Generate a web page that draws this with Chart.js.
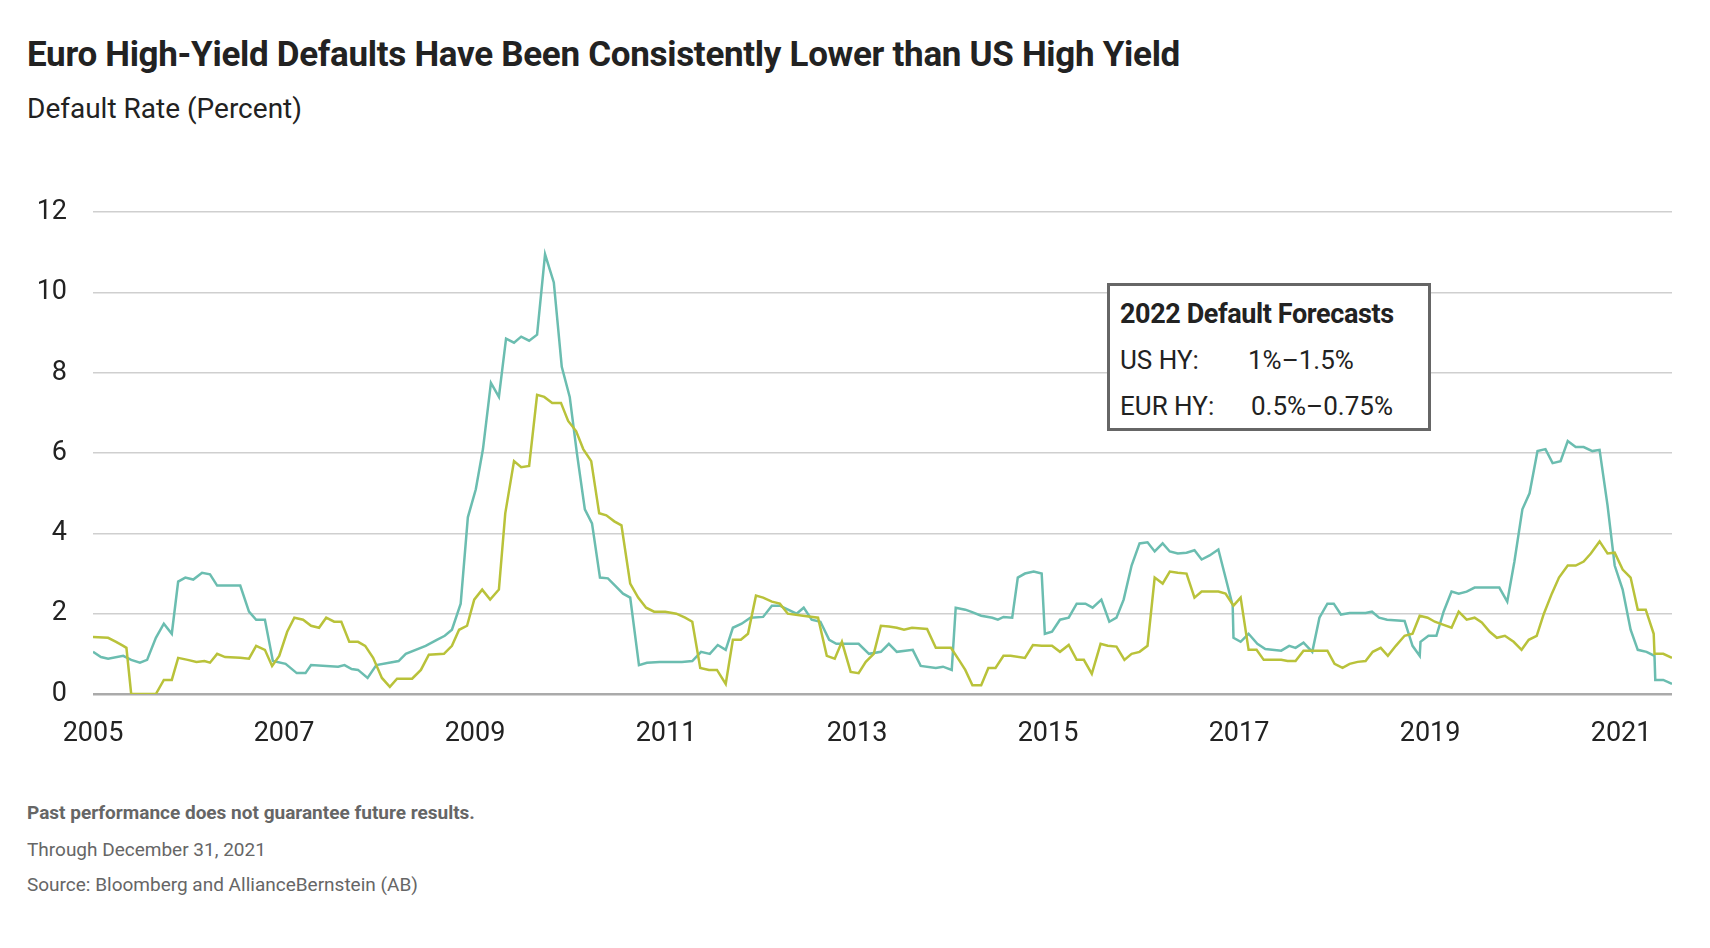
<!DOCTYPE html>
<html>
<head>
<meta charset="utf-8">
<script src="https://cdn.jsdelivr.net/npm/chart.js@4"></script>
<style>
  body { margin: 0; background: #fff; font-family: Roboto, "Noto Sans", sans-serif; color: #222; }
  #wrap { position: relative; width: 1710px; height: 948px; }
  h1 { position: absolute; left: 27px; top: 34px; margin: 0; font-size: 35px; font-weight: 700; letter-spacing: -0.3px; }
  .sub { position: absolute; left: 27px; top: 92px; font-size: 28px; }
  #chartBox { position: absolute; left: 0; top: 170px; width: 1710px; height: 610px; }
  .note { position: absolute; left: 27px; font-size: 19px; color: #666; }
  #forecast { position: absolute; left: 1107px; top: 283px; width: 324px; height: 148px; border: 3px solid #666; background: #fff; box-sizing: border-box; padding: 8px 10px 0 10px; white-space: nowrap; }
  #forecast .t { font-size: 27px; font-weight: 700; line-height: 40px; letter-spacing: -0.4px; margin-bottom: 6px; }
  #forecast .r { font-size: 26px; line-height: 40px; margin-bottom: 6px; }
  #forecast .r span { display: inline-block; }
</style>
</head>
<body>
<div id="wrap">
  <h1>Euro High-Yield Defaults Have Been Consistently Lower than US High Yield</h1>
  <div class="sub">Default Rate (Percent)</div>
  <div id="chartBox"><canvas id="chart"></canvas></div>
  <div id="forecast">
    <div class="t">2022 Default Forecasts</div>
    <div class="r"><span style="width:128px">US HY:</span>1%–1.5%</div>
    <div class="r"><span style="width:131px">EUR HY:</span>0.5%–0.75%</div>
  </div>
  <div class="note" style="top:801px;font-weight:700;">Past performance does not guarantee future results.</div>
  <div class="note" style="top:838px;">Through December 31, 2021</div>
  <div class="note" style="top:873px;">Source: Bloomberg and AllianceBernstein (AB)</div>
</div>
<script>
// months since Jan 2005
const usMonths = [0,1,1.9,3.8,4.8,5.9,6.8,7.9,8.9,9.9,10.7,11.6,12.6,13.7,14.7,15.6,18.5,19.6,20.5,21.6,22.6,24.2,25.6,26.7,27.4,30.8,31.6,32.5,33.3,34.5,35.6,38.4,39.3,41.8,43.2,44.2,45.1,46.2,47.1,48.1,49,50,51,51.9,52.9,53.8,54.8,55.8,56.8,57.9,58.9,59.9,60.8,61.8,62.7,63.7,64.7,65.6,66.6,67.5,68.6,69.6,71.2,74,75.3,76.4,77.5,78.5,79.5,80.4,81.5,82.6,84.2,85.3,86.3,88.4,89.3,90.3,91.4,92.5,93.4,96.2,97.5,99,100,101,103,104,105.9,106.8,107.9,108.4,109.6,110.3,111.6,113,113.7,114.4,115.5,116.2,117.1,118.2,119.2,119.6,120.5,121.5,122.6,123.6,124.7,125.6,126.7,127.7,128.6,129.5,130.5,131.5,132.5,133.4,134.4,135.3,136.3,137.4,138.4,139.3,140.3,141.4,142.3,143.2,143.3,144.2,145.2,146.3,147.3,149.3,150.3,151.1,152.1,153.2,154.1,155.1,155.9,156.8,157.9,159.9,160.7,161.6,162.6,164.8,165.8,166.7,166.8,167.8,168.8,169.7,170.7,171.6,172.6,173.6,176.7,177.7,178.6,179.6,180.5,181.5,182.5,183.4,184.4,185.3,186.3,187.3,188.4,189.3,190.3,191.2,192.2,193.2,194.1,195.2,196.2,196.3,197.3,198.4];
const usValues = [1.05,0.92,0.88,0.95,0.85,0.78,0.85,1.4,1.75,1.5,2.8,2.9,2.85,3.02,2.98,2.7,2.7,2.05,1.85,1.85,0.82,0.75,0.52,0.52,0.72,0.68,0.72,0.62,0.6,0.4,0.72,0.82,1.0,1.2,1.35,1.45,1.6,2.25,4.4,5.1,6.1,7.75,7.4,8.85,8.75,8.9,8.8,8.95,10.95,10.25,8.15,7.4,6.0,4.6,4.25,2.9,2.88,2.7,2.5,2.4,0.72,0.78,0.8,0.8,0.82,1.05,1.0,1.22,1.1,1.65,1.75,1.9,1.92,2.2,2.2,2.0,2.15,1.85,1.8,1.35,1.25,1.25,1.0,1.05,1.25,1.05,1.1,0.7,0.65,0.68,0.6,2.15,2.1,2.05,1.95,1.9,1.85,1.92,1.9,2.9,3.0,3.05,3.0,1.5,1.55,1.85,1.9,2.25,2.25,2.15,2.35,1.8,1.9,2.35,3.2,3.75,3.78,3.55,3.75,3.55,3.5,3.52,3.58,3.35,3.45,3.6,2.9,2.2,1.4,1.3,1.5,1.25,1.12,1.08,1.2,1.15,1.28,1.05,1.9,2.25,2.25,1.98,2.02,2.02,2.05,1.9,1.85,1.82,1.2,0.95,1.3,1.45,1.45,2.05,2.55,2.5,2.55,2.65,2.65,2.3,3.3,4.6,5.0,6.05,6.1,5.75,5.8,6.3,6.15,6.15,6.05,6.08,4.7,3.2,2.6,1.6,1.1,1.05,0.95,0.35,0.35,0.25];

const eurMonths = [0,1.9,2.9,3.8,4.2,4.8,7.9,8.9,9.9,10.7,11.9,13,14,14.7,15.6,16.6,18.5,19.6,20.5,21.6,22.5,23.4,24.4,25.3,26.4,27.4,28.4,29.3,30.3,31.2,32.2,33.3,34.2,35.2,36.3,37.3,38.2,40.1,41.2,42.2,44.1,45.1,46,47,47.9,48.9,49.9,51,51.8,52.9,53.8,54.8,55.8,56.7,57.7,58.8,59.7,60.7,61.6,62.6,63.6,64.5,65.5,66.4,67.5,68.5,69.5,70.5,71.9,73.3,74.4,75.3,76.3,77.4,78.4,79.5,80.4,81.4,82.3,83.3,84.2,85.3,86.3,87.3,89.2,91.1,92.2,93.2,94.1,95.2,96.2,97.1,98.1,99,100,101,101.9,102.9,104.8,105.9,107.8,108.8,109.6,110.5,111.6,112.5,113.4,114.4,115.3,117.1,118.1,119.2,120.5,121.5,122.6,123.6,124.5,125.5,126.6,127.5,128.6,129.6,130.5,131.5,132.5,133.4,134.4,135.3,136.3,137.4,138.4,139.3,141.4,142.3,143.3,144.2,145.2,146.2,147.1,149.3,150.1,151.1,152.1,155.1,156,157,157.9,158.9,159.9,160.8,161.8,162.7,163.7,164.8,165.8,166.7,167.7,168.6,169.7,170.7,171.6,172.6,173.6,174.5,175.5,176.4,177.4,178.5,179.5,180.4,181.4,182.3,183.3,184.2,185.3,186.3,187.3,188.2,189.3,190.3,191.2,192.2,193.2,194.1,195.1,196.1,196.2,197.3,198.4];
const eurValues = [1.42,1.4,1.3,1.2,1.15,0,0,0.35,0.35,0.9,0.85,0.8,0.82,0.78,1.0,0.92,0.9,0.88,1.2,1.1,0.7,0.95,1.55,1.9,1.85,1.7,1.65,1.9,1.8,1.8,1.3,1.3,1.2,0.9,0.4,0.18,0.38,0.38,0.6,0.98,1.0,1.2,1.6,1.7,2.35,2.6,2.35,2.6,4.5,5.8,5.65,5.68,7.45,7.4,7.25,7.25,6.8,6.55,6.1,5.8,4.5,4.45,4.3,4.2,2.75,2.4,2.15,2.05,2.05,2.0,1.9,1.8,0.65,0.6,0.6,0.25,1.35,1.35,1.5,2.45,2.4,2.3,2.25,2.0,1.95,1.9,0.95,0.88,1.3,0.55,0.52,0.8,1.0,1.7,1.68,1.65,1.6,1.65,1.62,1.15,1.15,0.85,0.6,0.22,0.22,0.65,0.65,0.95,0.95,0.9,1.22,1.2,1.2,1.05,1.22,0.85,0.85,0.5,1.25,1.2,1.18,0.85,1.0,1.05,1.2,2.9,2.75,3.05,3.02,3.0,2.4,2.55,2.55,2.5,2.2,2.4,1.1,1.1,0.85,0.85,0.82,0.82,1.08,1.08,0.75,0.65,0.75,0.8,0.82,1.05,1.15,0.95,1.2,1.45,1.5,1.95,1.9,1.8,1.72,1.65,2.05,1.85,1.9,1.78,1.55,1.4,1.45,1.3,1.1,1.35,1.45,2.0,2.5,2.9,3.2,3.2,3.3,3.5,3.8,3.5,3.52,3.1,2.9,2.1,2.1,1.5,1.0,1.0,0.9];

const yearTicks = [2005, 2007, 2009, 2011, 2013, 2015, 2017, 2019, 2021];

function toPoints(months, values) {
    return months.map((m, i) => ({ x: 2005 + m / 12, y: values[i] }));
}

const ctx = document.getElementById('chart').getContext('2d');
new Chart(ctx, {
    type: 'line',
    data: {
        datasets: [
            { label: 'EUR HY', data: toPoints(eurMonths, eurValues), borderColor: '#b9c23a', borderWidth: 2.5, fill: false },
            { label: 'US HY', data: toPoints(usMonths, usValues), borderColor: '#6bbdb0', borderWidth: 2.5, fill: false }
        ]
    },
    options: {
        animation: false,
        responsive: true,
        maintainAspectRatio: false,
        layout: { padding: { top: 2, right: 38, left: 0, bottom: 0 } },
        plugins: { legend: { display: false }, tooltip: { enabled: false } },
        elements: { point: { radius: 0 }, line: { tension: 0 } },
        scales: {
            x: {
                type: 'linear',
                min: 2005,
                max: 2005 + 198.4 / 12,
                afterBuildTicks: s => { s.ticks = yearTicks.map(v => ({ value: v })); },
                afterFit: s => { s.height = 86; },
                grid: { display: false, drawTicks: false },
                border: { display: false },
                ticks: { padding: 24, color: '#222', font: { family: 'Roboto', size: 27 }, callback: v => String(v) }
            },
            y: {
                min: 0,
                max: 12,
                afterFit: s => { s.width = 93; },
                grid: { color: ctx => ctx.tick.value === 0 ? '#aaa' : '#cfcfcf', lineWidth: ctx => ctx.tick.value === 0 ? 2.5 : 1.5, drawTicks: false },
                border: { display: false },
                ticks: { stepSize: 2, padding: 26, color: '#222', font: { family: 'Roboto', size: 27 } }
            }
        }
    }
});
</script>
</body>
</html>
